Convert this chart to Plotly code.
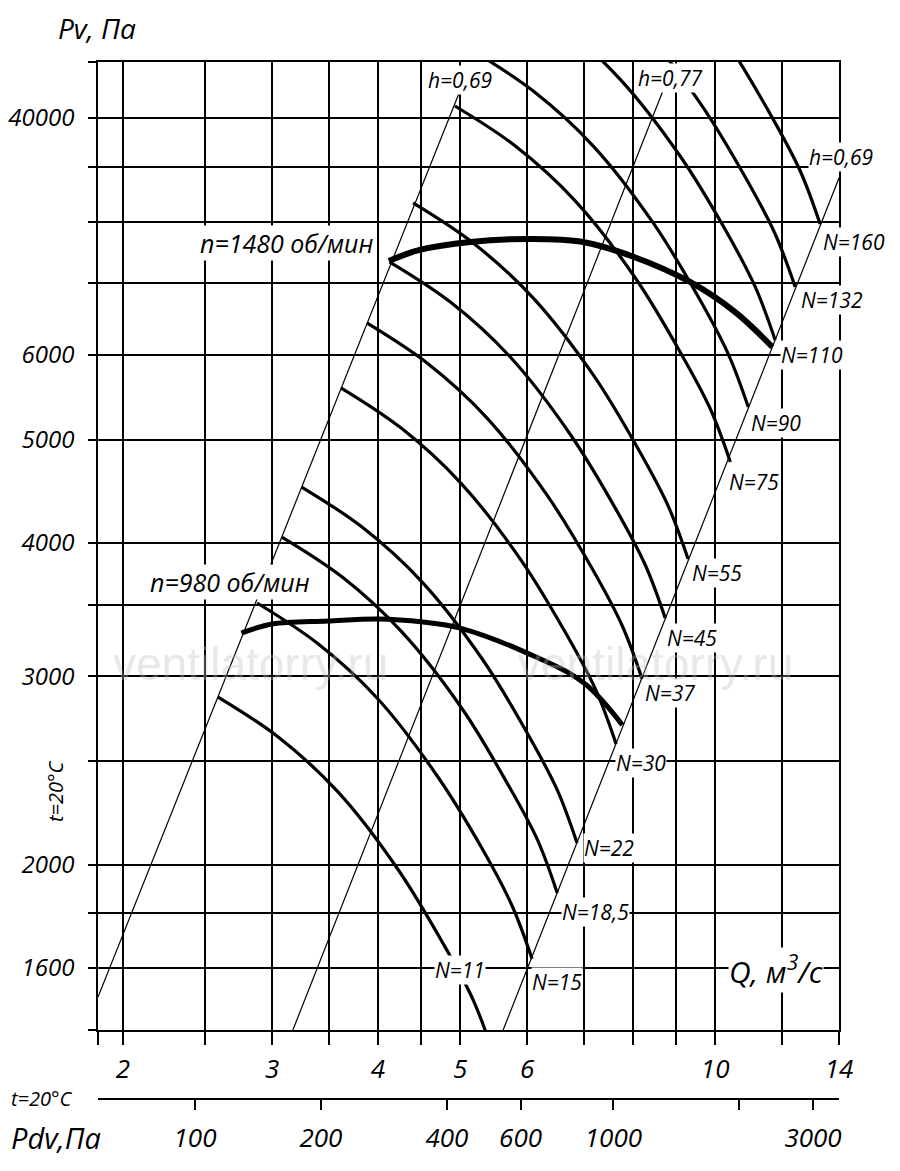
import plotly.graph_objects as go

# Fan curves: Q in m3/s, Pv in Pa
q_n11 = [2.59, 3.05, 3.59, 4.22, 4.77, 5.18, 5.47]
p_n11 = [2870, 2633, 2338, 1981, 1689, 1494, 1332]
q_n15 = [2.88, 3.39, 3.99, 4.69, 5.31, 5.76, 6.08]
p_n15 = [3515, 3224, 2864, 2426, 2069, 1829, 1632]
q_n18 = [3.08, 3.63, 4.27, 5.03, 5.68, 6.17, 6.51]
p_n18 = [4052, 3717, 3301, 2797, 2385, 2109, 1881]
q_n22 = [3.25, 3.83, 4.51, 5.31, 6.00, 6.51, 6.87]
p_n22 = [4513, 4140, 3677, 3115, 2656, 2349, 2095]
q_n30 = [3.62, 4.26, 5.01, 5.90, 6.67, 7.24, 7.64]
p_n30 = [5587, 5125, 4552, 3856, 3289, 2907, 2594]
q_n37 = [3.88, 4.57, 5.38, 6.33, 7.16, 7.77, 8.20]
p_n37 = [6428, 5896, 5237, 4437, 3784, 3345, 2984]
q_n45 = [4.13, 4.87, 5.73, 6.74, 7.62, 8.27, 8.73]
p_n45 = [7331, 6725, 5973, 5060, 4315, 3815, 3403]
q_n55 = [4.40, 5.18, 6.10, 7.18, 8.11, 8.80, 9.29]
p_n55 = [8326, 7637, 6783, 5747, 4901, 4333, 3865]
q_n75 = [4.93, 5.81, 6.84, 8.05, 9.09, 9.87, 10.42]
p_n75 = [10262, 9413, 8360, 7083, 6040, 5340, 4764]
q_n90 = [5.18, 6.10, 7.18, 8.45, 9.55, 10.36, 10.94]
p_n90 = [11554, 10598, 9413, 7975, 6801, 6013, 5363]
q_n110 = [5.57, 6.56, 7.72, 9.09, 10.28, 11.15, 11.77]
p_n110 = [13350, 12246, 10876, 9214, 7858, 6947, 6197]
q_n132 = [5.89, 6.93, 8.16, 9.60, 10.85, 11.77, 12.43]
p_n132 = [14963, 13726, 12190, 10327, 8807, 7787, 6946]
q_n160 = [6.30, 7.41, 8.73, 10.28, 11.61, 12.60, 13.30]
p_n160 = [17141, 15723, 13965, 11831, 10089, 8920, 7957]

# working curves for the two speeds
q_1480 = [4.12, 4.48, 5.14, 6.05, 6.98, 8.02, 9.34, 10.56, 11.68]
p_1480 = [7348, 7524, 7654, 7704, 7654, 7411, 7022, 6580, 6104]
q_980 = [2.76, 3.00, 3.49, 4.00, 4.52, 5.00, 6.00, 7.00, 7.77]
p_980 = [3294, 3359, 3381, 3396, 3374, 3330, 3155, 2958, 2702]

# efficiency lines (h)
q_h069_left = [1.869, 5.03]
p_h069_left = [1503, 10737]
q_h077 = [3.14, 8.73]
p_h077 = [1370, 10737]
q_h069_right = [5.56, 14.0]
p_h069_right = [1370, 8786]

# axes
q_grid = [1.869, 2, 2.5, 3, 3.5, 4, 4.5, 5, 6, 7, 8, 9, 10, 12, 14]
q_text = ['', '2', '', '3', '', '4', '', '5', '6', '', '', '', '10', '', '14']
p_grid = [1400, 1600, 1800, 2000, 2500, 3000, 3500, 4000, 5000, 6000,
          7000, 8000, 9000, 10000, 11283]
p_text = ['', '1600', '', '2000', '', '3000', '', '4000', '5000', '6000',
          '', '', '', '40000', '']
pdv_ticks = [100, 200, 400, 600, 1000, 2000, 3000]
pdv_text = ['100', '200', '400', '600', '1000', '', '3000']

thin_curves = [
    ('N=11', q_n11, p_n11), ('N=15', q_n15, p_n15), ('N=18,5', q_n18, p_n18),
    ('N=22', q_n22, p_n22), ('N=30', q_n30, p_n30), ('N=37', q_n37, p_n37),
    ('N=45', q_n45, p_n45), ('N=55', q_n55, p_n55), ('N=75', q_n75, p_n75),
    ('N=90', q_n90, p_n90), ('N=110', q_n110, p_n110),
    ('N=132', q_n132, p_n132), ('N=160', q_n160, p_n160),
]

FONT = 'Open Sans'

fig = go.Figure()

for q, p in [(q_h069_left, p_h069_left), (q_h077, p_h077),
             (q_h069_right, p_h069_right)]:
    fig.add_trace(go.Scatter(x=q, y=p, mode='lines', showlegend=False,
                             line=dict(color='black', width=1.2),
                             hoverinfo='skip'))

for name, q, p in thin_curves:
    fig.add_trace(go.Scatter(x=q, y=p, mode='lines', name=name,
                             showlegend=False,
                             line=dict(color='black', width=3.2,
                                       shape='spline', smoothing=1.0)))

fig.add_trace(go.Scatter(x=q_980, y=p_980, mode='lines', name='n=980',
                         showlegend=False,
                         line=dict(color='black', width=5, shape='spline')))
fig.add_trace(go.Scatter(x=q_1480, y=p_1480, mode='lines', name='n=1480',
                         showlegend=False,
                         line=dict(color='black', width=6, shape='spline')))

# empty trace so that the Pdv axis gets drawn
fig.add_trace(go.Scatter(x=[pdv_ticks[0], pdv_ticks[-1]], y=[None, None],
                         xaxis='x2', yaxis='y', mode='lines',
                         showlegend=False, hoverinfo='skip'))


# page pixel position -> paper coords (plot area 98..839 x 62..1099)
def at(xp, yp):
    return (xp - 98) / 741, (1099 - yp) / 1037


def label(text, xp, yp, size, bg=None, angle=0, family=FONT, color='black',
          style='italic'):
    ax, ay = at(xp, yp)
    fig.add_annotation(x=ax, y=ay, xref='paper', yref='paper', text=text,
                       xanchor='center', yanchor='middle',
                       showarrow=False, textangle=angle,
                       bgcolor=bg if bg else 'rgba(0,0,0,0)', borderpad=0,
                       font=dict(family=family, size=size, style=style,
                                 color=color))


labels = [
    ('N=11', 460, 970), ('N=15', 557, 982), ('N=18,5', 595, 912),
    ('N=22', 609, 848), ('N=30', 641, 763), ('N=37', 670, 693),
    ('N=45', 692, 638), ('N=55', 717, 573), ('N=75', 754, 482),
    ('N=90', 776, 423), ('N=110', 812, 355), ('N=132', 832, 300),
    ('N=160', 854, 242), ('h=0,69', 460, 80), ('h=0,77', 670, 78),
    ('h=0,69', 841, 157),
]
for text, xp, yp in labels:
    label(text, xp, yp, 21, bg='white')

label('n=1480 об/мин', 286, 243, 25, bg='white')
label('n=980 об/мин', 230, 582, 25, bg='white')
label('Q, м<sup>3</sup>/с', 776, 970, 30, bg='white')

label('Pv, Па', 97, 28, 28)
label('Pdv,Па', 56, 1137, 29)
label('t=20°C', 42, 1098, 20)
label('t=20°C', 55, 791, 20, angle=-90)

# watermark
for xp in [250, 655]:
    label('ventilatorry.ru', xp, 664, 46, family='Liberation Sans',
          color='rgba(190,190,190,0.35)', style='normal')

tick_font = dict(family=FONT, size=26, style='italic', color='black')
ytick_font = dict(family=FONT, size=24, style='italic', color='black')

# the page puts the figure 8 px from the top-left corner
fig.update_layout(
    template='none',
    width=892, height=1163,
    margin=dict(l=90, r=61, t=54, b=72, autoexpand=False),
    plot_bgcolor='white', paper_bgcolor='white',
    showlegend=False,
    xaxis=dict(type='log', range=[0.27161, 1.14613], anchor='y',
               automargin=False,
               tickvals=q_grid, ticktext=q_text, tickfont=tick_font,
               ticks='outside', ticklen=13, tickwidth=1.6,
               tickcolor='black', ticklabelstandoff=2,
               showgrid=True, gridcolor='black', gridwidth=1.6,
               showline=True, linecolor='black', linewidth=1.6,
               mirror=True, zeroline=False),
    yaxis=dict(type='log', range=[3.14613, 4.05243],
               domain=[69 / 1037, 1], automargin=False,
               tickvals=p_grid, ticktext=p_text, tickfont=ytick_font,
               ticks='outside', ticklen=8, tickwidth=1.6,
               tickcolor='black', ticklabelstandoff=9,
               showgrid=True, gridcolor='black', gridwidth=1.6,
               showline=True, linecolor='black', linewidth=1.6,
               mirror=True, zeroline=False),
    xaxis2=dict(type='log', range=[1.76817, 3.53920], overlaying='x',
                anchor='free', position=0, side='bottom', automargin=False,
                tickvals=pdv_ticks, ticktext=pdv_text, tickfont=tick_font,
                ticks='outside', ticklen=10, tickwidth=1.6,
                tickcolor='black', ticklabelstandoff=6,
                showgrid=False, showline=True, linecolor='black',
                linewidth=1.6, zeroline=False),
)

fig.write_html("out.html")
